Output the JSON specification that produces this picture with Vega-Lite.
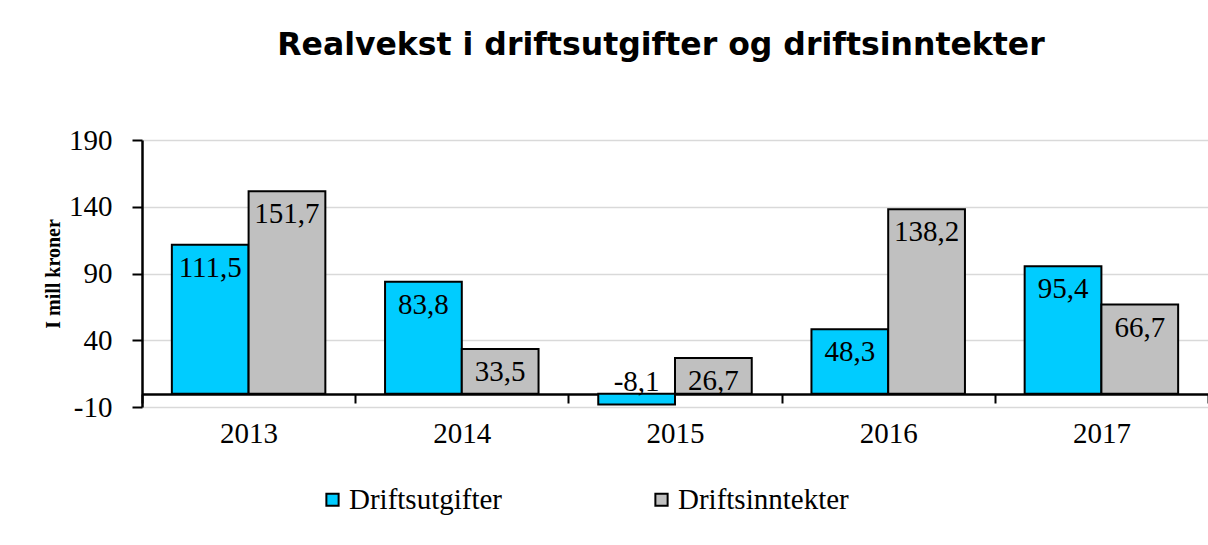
{
  "$schema": "https://vega.github.io/schema/vega-lite/v6.json",
  "autosize": {"type": "none"},
  "width": 1066,
  "height": 267,
  "padding": {"left": 142, "top": 140, "right": 0, "bottom": 138},
  "background": "white",
  "config": {
    "locale": {"number": {"decimal": ",", "thousands": " ", "grouping": [3], "currency": ["", ""], "minus": "-"}},
    "view": {"stroke": null},
    "font": "Liberation Serif"
  },
  "title": {
    "text": "Realvekst i driftsutgifter og driftsinntekter",
    "font": "DejaVu Sans",
    "fontWeight": "bold",
    "fontSize": 31.5,
    "anchor": "middle",
    "offset": 65,
    "dx": -14,
    "color": "black"
  },
  "data": {
    "values": [
      {"year": "2013", "series": "Driftsutgifter", "value": 111.5},
      {"year": "2013", "series": "Driftsinntekter", "value": 151.7},
      {"year": "2014", "series": "Driftsutgifter", "value": 83.8},
      {"year": "2014", "series": "Driftsinntekter", "value": 33.5},
      {"year": "2015", "series": "Driftsutgifter", "value": -8.1},
      {"year": "2015", "series": "Driftsinntekter", "value": 26.7},
      {"year": "2016", "series": "Driftsutgifter", "value": 48.3},
      {"year": "2016", "series": "Driftsinntekter", "value": 138.2},
      {"year": "2017", "series": "Driftsutgifter", "value": 95.4},
      {"year": "2017", "series": "Driftsinntekter", "value": 66.7}
    ]
  },
  "encoding": {
    "x": {
      "field": "year",
      "type": "nominal",
      "scale": {"paddingInner": 0, "paddingOuter": 0},
      "axis": {
        "title": null,
        "labelAngle": 0,
        "labelFont": "Liberation Serif",
        "labelFontSize": 29,
        "labelColor": "black",
        "labelPadding": 16,
        "offset": -13,
        "domainColor": "black",
        "domainWidth": 2.5,
        "ticks": true,
        "tickBand": "extent",
        "tickColor": "black",
        "tickWidth": 2,
        "tickSize": 9,
        "grid": false
      }
    },
    "xOffset": {"field": "series", "sort": ["Driftsutgifter", "Driftsinntekter"], "scale": {"paddingInner": 0, "paddingOuter": 0.389}}
  },
  "layer": [
    {
      "mark": {"type": "bar", "stroke": "black", "strokeWidth": 2},
      "encoding": {
        "y": {
          "field": "value",
          "type": "quantitative",
          "scale": {"domain": [-10, 190], "nice": false},
          "axis": {
            "values": [-10, 40, 90, 140, 190],
            "title": "I mill kroner",
            "titleFont": "Liberation Serif",
            "titleFontWeight": "bold",
            "titleFontSize": 20,
            "titleColor": "black",
            "titlePadding": 5,
            "labelFont": "Liberation Serif",
            "labelFontSize": 29,
            "labelColor": "black",
            "labelPadding": 20,
            "grid": true,
            "gridColor": "#d9d9d9",
            "gridWidth": 1.5,
            "domainColor": "black",
            "domainWidth": 2.5,
            "tickColor": "black",
            "tickWidth": 2,
            "tickSize": 10
          }
        },
        "color": {
          "field": "series",
          "type": "nominal",
          "sort": ["Driftsutgifter", "Driftsinntekter"],
          "scale": {"domain": ["Driftsutgifter", "Driftsinntekter"], "range": ["#00CCFF", "#C0C0C0"]},
          "legend": {
            "orient": "none",
            "legendX": 176,
            "legendY": 345,
            "direction": "horizontal",
            "title": null,
            "symbolType": "square",
            "symbolSize": 150,
            "symbolStrokeColor": "black",
            "symbolStrokeWidth": 2,
            "symbolOpacity": 1,
            "labelFont": "Liberation Serif",
            "labelFontSize": 29,
            "labelColor": "black",
            "labelLimit": 300,
            "labelOffset": 2,
            "columnPadding": 144
          }
        }
      }
    },
    {
      "transform": [{"filter": "datum.value > 0"}],
      "mark": {"type": "text", "baseline": "alphabetic", "dy": 32, "fontSize": 29, "font": "Liberation Serif", "color": "black"},
      "encoding": {
        "y": {"field": "value", "type": "quantitative"},
        "text": {"field": "value", "type": "quantitative", "format": ".1f"}
      }
    },
    {
      "transform": [{"filter": "datum.value < 0"}],
      "mark": {"type": "text", "baseline": "alphabetic", "dy": -3, "fontSize": 29, "font": "Liberation Serif", "color": "black"},
      "encoding": {
        "y": {"datum": 0, "type": "quantitative"},
        "text": {"field": "value", "type": "quantitative", "format": ".1f"}
      }
    }
  ]
}
